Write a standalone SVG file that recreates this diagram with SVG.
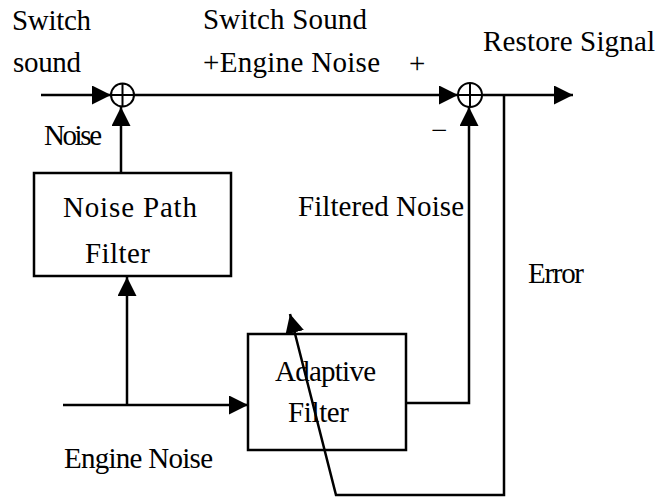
<svg xmlns="http://www.w3.org/2000/svg" width="657" height="497" viewBox="0 0 657 497">
<style>
.t{font-family:"Liberation Serif","Times New Roman",serif;font-size:29px;fill:#000}
.box{fill:none;stroke:#000;stroke-width:2.5}
.sum{fill:#fff;stroke:#000;stroke-width:2}
.ln{fill:none;stroke:#000;stroke-width:2.5}
.arr{marker-end:url(#ah)}
</style>
<defs>
<marker id="ah" viewBox="0 0 10 10" refX="10" refY="5" markerUnits="userSpaceOnUse" markerWidth="19" markerHeight="19" orient="auto">
<path d="M0,0 L10,5 L0,10 z" fill="#000"/>
</marker>
</defs>
<rect width="657" height="497" fill="#fff"/>
<g id="connectors">
<line class="ln arr" x1="41" y1="95" x2="111" y2="95"/>
<line class="ln arr" x1="134" y1="95" x2="458" y2="95"/>
<line class="ln arr" x1="482" y1="95" x2="573" y2="95"/>
<line class="ln arr" x1="121" y1="173" x2="121" y2="107"/>
<line class="ln arr" x1="63" y1="405" x2="248" y2="405"/>
<line class="ln arr" x1="127" y1="405" x2="127" y2="277"/>
<polyline class="ln arr" points="406,403 469,403 469,107"/>
<polyline class="ln arr" points="504,95 504,495 336,495 290,314"/>
</g>
<g id="sum1">
<circle class="sum" cx="122.5" cy="95" r="11.5"/>
<path d="M111,95 H134 M122.5,83.5 V106.5" stroke="#000" stroke-width="2"/>
</g>
<g id="sum2">
<circle class="sum" cx="470" cy="95" r="12"/>
<path d="M458,95 H482 M470,83 V107" stroke="#000" stroke-width="2"/>
</g>
<g id="noise-path-filter">
<rect class="box" x="34" y="173" width="197" height="103"/>
<text class="t" x="63" y="217" font-size="30" textLength="134">Noise Path</text>
<text class="t" x="85" y="263" font-size="30" textLength="65">Filter</text>
</g>
<g id="adaptive-filter">
<rect class="box" x="248" y="334" width="158" height="116"/>
<text class="t" x="275" y="381" font-size="27.5" textLength="101">Adaptive</text>
<text class="t" x="288" y="422" font-size="28" textLength="61">Filter</text>
</g>
<g id="labels">
<text class="t" x="12" y="30" textLength="79">Switch</text>
<text class="t" x="13" y="72" textLength="68">sound</text>
<text class="t" x="203" y="29" textLength="164">Switch Sound</text>
<text class="t" x="203" y="72" textLength="177">+Engine Noise</text>
<text class="t" x="409" y="73">+</text>
<text class="t" x="483" y="51" textLength="172">Restore Signal</text>
<text class="t" x="431" y="140">−</text>
<text class="t" x="44" y="145" font-size="25" textLength="58">Noise</text>
<text class="t" x="298" y="216" textLength="166">Filtered Noise</text>
<text class="t" x="528" y="283" font-size="26.5" textLength="56">Error</text>
<text class="t" x="64" y="468" font-size="27.5" textLength="149">Engine Noise</text>
</g>
</svg>
